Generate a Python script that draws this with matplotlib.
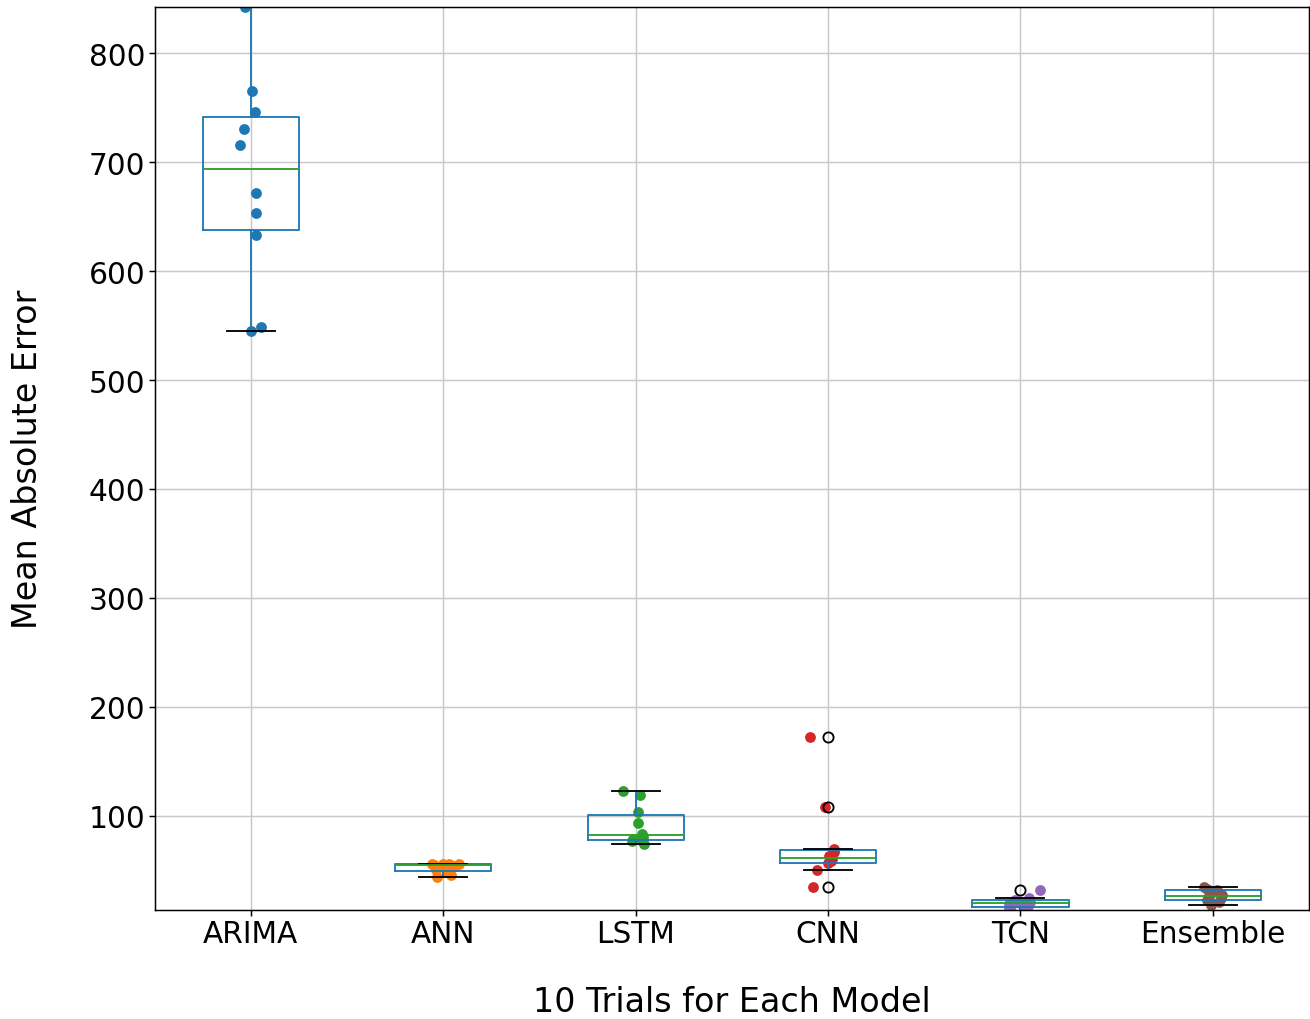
import matplotlib
matplotlib.use("Agg")
import matplotlib.pyplot as plt
import numpy as np

# --- data (10 trials per model) ---
models = ['ARIMA', 'ANN', 'LSTM', 'CNN', 'TCN', 'Ensemble']

arima = [842.4, 765.2, 745.9, 730.3, 715.6, 671.5, 653.1, 632.9, 544.7, 548.4]
ann = [43.8, 45.2, 48.5, 50.5, 54.0, 55.0, 55.6, 55.8, 55.9, 56.0]
lstm = [74.1, 76.5, 77.5, 79.0, 80.5, 83.1, 93.1, 103.0, 119.4, 122.7]
cnn = [34.9, 49.9, 56.2, 58.2, 60.0, 62.6, 67.0, 69.0, 108.4, 171.8]
tcn = [12.8, 14.5, 15.5, 17.5, 19.0, 20.0, 21.0, 22.6, 24.5, 32.2]
ensemble = [17.7, 20.5, 22.5, 24.5, 26.0, 27.2, 30.0, 32.0, 33.0, 34.5]

# horizontal jitter of the strip points
jit_arima = [-0.030, 0.008, 0.022, -0.035, -0.057, 0.029, 0.029, 0.026, 0.0, 0.052]
jit_ann = [-0.03, 0.04, 0.02, -0.04, 0.06, -0.05, 0.08, 0.0, 0.03, -0.06]
jit_lstm = [0.043, -0.018, 0.03, -0.012, 0.04, 0.034, 0.01, 0.014, 0.022, -0.064]
jit_cnn = [-0.078, -0.057, 0.0, 0.014, 0.02, 0.004, 0.03, 0.03, -0.014, -0.092]
jit_tcn = [-0.05, 0.02, -0.06, 0.04, -0.06, 0.0, 0.05, -0.03, 0.043, 0.1]
jit_ens = [-0.01, 0.03, -0.03, 0.04, -0.02, 0.05, 0.0, 0.02, -0.03, -0.048]

yticks = [100, 200, 300, 400, 500, 600, 700, 800]

groups = [arima, ann, lstm, cnn, tcn, ensemble]
jitters = [jit_arima, jit_ann, jit_lstm, jit_cnn, jit_tcn, jit_ens]
colors = ['#1f77b4', '#ff7f0e', '#2ca02c', '#d62728', '#9467bd', '#8c564b']

fig = plt.figure(figsize=(9.8325, 7.65), dpi=133.33)
ax = fig.add_axes([0.118, 0.107, 0.8805, 0.885])

ax.boxplot(groups, positions=range(1, 7), widths=0.5,
           boxprops=dict(color='#1f77b4'),
           whiskerprops=dict(color='#1f77b4'),
           medianprops=dict(color='#2ca02c'),
           capprops=dict(color='k'),
           flierprops=dict(marker='o', markerfacecolor='none',
                           markeredgecolor='k', markersize=5.5))

for i, (vals, jit) in enumerate(zip(groups, jitters)):
    ax.scatter(np.array(jit) + i + 1, vals, s=34, color=colors[i],
               zorder=1.8, linewidths=0)

ax.grid(True, color='#c8c8c8')
ax.set_xlim(0.5, 6.5)
ax.set_ylim(13.5, 842.5)
ax.set_yticks(yticks)
ax.set_xticks(range(1, 7))
ax.set_xticklabels(models)
ax.tick_params(labelsize=16, pad=1.5)
ax.set_xlabel('10 Trials for Each Model', fontsize=18, labelpad=20)
ax.set_ylabel('Mean Absolute Error', fontsize=18, labelpad=24)

fig.savefig('out.png', dpi=133.33)
